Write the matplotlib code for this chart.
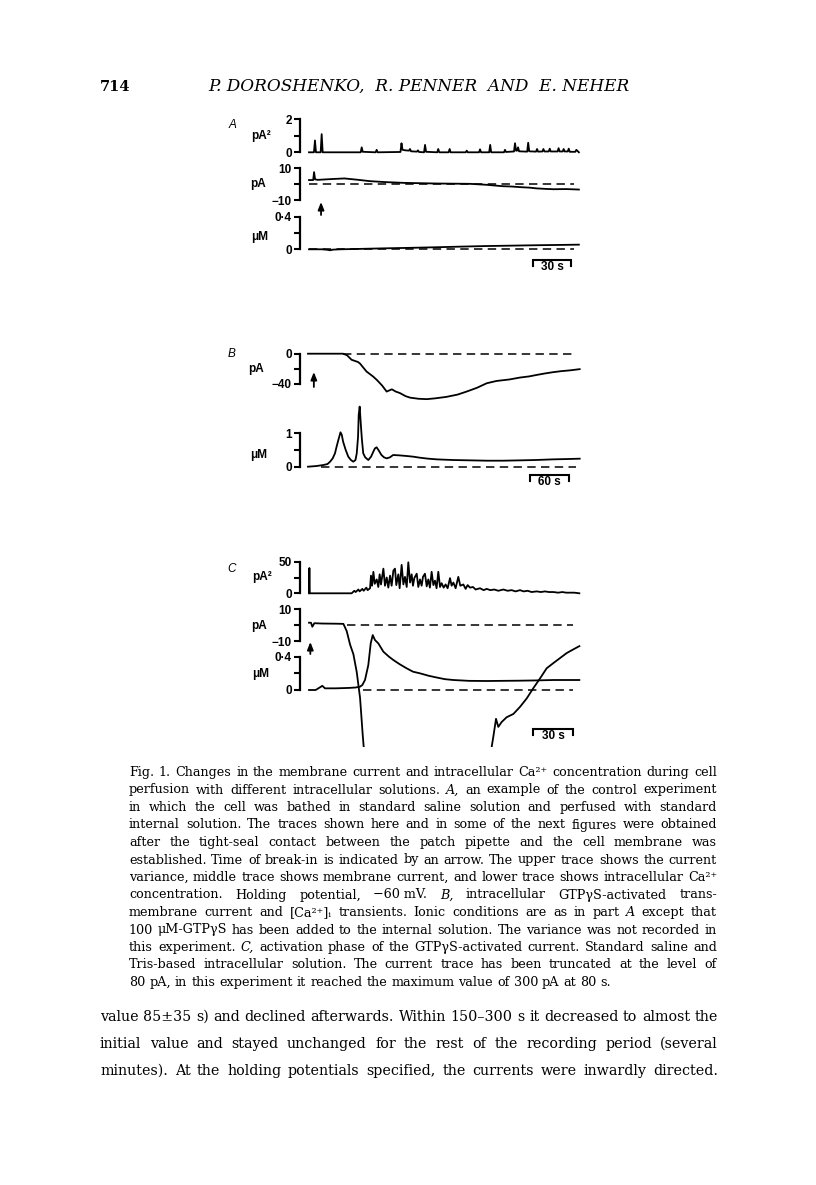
import matplotlib.pyplot as plt
from matplotlib.transforms import blended_transform_factory

W, H = 816, 1185
SANS = ['Liberation Sans', 'DejaVu Sans']
SERIF = ['DejaVu Serif']

# ---- panel A : variance (pA^2), current (pA), [Ca] (uM) ; time in s
var_a_t = [0, 3.9, 4.7, 5.5, 9.2, 10.0, 10.8, 40.8, 41.6, 42.4, 52.6, 53.4, 54.2,
           72.2, 73.0, 73.8, 76.0, 78.9, 79.7, 80.5, 85.2, 86.0, 86.8, 90.8, 91.6, 92.4,
           101.2, 102.0, 102.8, 110.2, 111.0, 111.8, 123.7, 124.5, 125.3, 134.2, 135.0, 135.8,
           142.2, 143.0, 143.8, 153.9, 154.7, 155.5, 161.8, 162.6, 163.4, 164.2, 165.0, 165.8,
           172.2, 173.0, 173.8, 179.2, 180.0, 180.8, 184.2, 185.0, 185.8, 189.2, 190.0, 190.8,
           196.2, 197.0, 197.8, 200.2, 201.0, 201.8, 204.2, 205.0, 205.8, 210.2, 211.0, 213]
var_a_v = [0, 0, 0.72, 0, 0, 1.1, 0, 0, 0.3, 0.03, 0, 0.15, 0,
           0.02, 0.55, 0.15, 0.12, 0.1, 0.2, 0.06, 0.04, 0.12, 0.02, 0, 0.45, 0.03,
           0, 0.2, 0, 0, 0.2, 0, 0, 0.1, 0, 0, 0.18, 0,
           0, 0.45, 0, 0, 0.15, 0.02, 0.05, 0.55, 0.1, 0.1, 0.3, 0.06,
           0.04, 0.58, 0.06, 0.04, 0.2, 0.04, 0.05, 0.2, 0.05, 0.05, 0.22, 0.05,
           0.05, 0.25, 0.05, 0.05, 0.2, 0.05, 0.05, 0.22, 0.03, 0.03, 0.15, 0]

cur_a_t = [0, 3.3, 4.0, 4.8, 7, 11, 20, 28, 38, 48, 60, 75, 88, 101, 114, 127, 140,
           153, 160, 167, 174, 180, 187, 193, 203, 213]
cur_a_v = [2.6, 2.6, 7.6, 3.0, 2.7, 2.9, 3.3, 3.6, 2.8, 1.9, 1.3, 0.8, 0.6, 0.4, 0.3, 0.2, -0.4,
           -1.3, -1.5, -1.9, -2.2, -2.7, -3.0, -3.2, -3.1, -3.4]

ca_a_t = [0, 10, 14, 16.6, 19, 25, 40, 60, 80, 100, 120, 140, 160, 180, 200, 213]
ca_a_v = [0.0, 0.0, -0.005, -0.012, -0.004, 0.0, 0.005, 0.012, 0.018, 0.025, 0.033,
          0.04, 0.045, 0.05, 0.054, 0.057]

# ---- panel B : current (pA), [Ca] (uM)
cur_b_t = [0, 20, 40, 54, 60, 67, 72, 77, 80, 90, 100, 106, 114, 121, 129, 135, 141.5, 150,
           157, 170, 182.6, 195, 213, 230, 244, 260, 275, 290, 310, 326, 340, 352, 365, 377,
           390, 403, 418]
cur_b_v = [0, 0, 0, 0, -2, -8, -9.5, -11, -13, -23.5, -30, -34.7, -42, -50, -47, -50, -52, -56,
           -58, -59.5, -60, -59, -57, -54, -50, -45, -39, -36, -34, -31.5, -30, -28, -26, -24.4,
           -23, -22, -20.4]

ca_b_t = [0, 13, 23.6, 30, 34, 38, 41.5, 44, 46.7, 50, 52, 54, 58, 62, 66, 69.7, 73, 75, 77, 78,
          79.5, 80.5, 81.5, 83, 85, 88, 92.8, 97, 100.5, 103, 105.6, 109, 113, 117, 121, 126,
          131, 140, 152, 162, 172, 185, 198, 210, 223.6, 250, 275, 300, 326, 350, 377, 400, 418]
ca_b_v = [0, 0.02, 0.05, 0.08, 0.15, 0.25, 0.4, 0.6, 0.8, 1.03, 0.95, 0.75, 0.5, 0.3, 0.2, 0.15,
          0.2, 0.4, 0.9, 1.55, 1.8, 1.5, 1.2, 0.8, 0.4, 0.28, 0.2, 0.3, 0.45, 0.55, 0.58, 0.48,
          0.35, 0.28, 0.25, 0.28, 0.35, 0.34, 0.32, 0.3, 0.27, 0.24, 0.22, 0.21, 0.2, 0.19, 0.18,
          0.18, 0.19, 0.2, 0.22, 0.23, 0.24]

# ---- panel C : variance, current (truncated at -80 pA), [Ca]
var_c_t = [0, 0.3, 0.6, 32, 34, 35, 37, 38, 40, 41,
           43, 44, 45.8, 46.5, 47.3, 48.3, 49.3, 50.8, 52, 53,
           54, 55.8, 57, 58.3, 59.5, 60.8, 62, 63.3, 64.5, 65.5,
           67, 68, 69.5, 70.8, 72, 73.3, 74.5, 75.8, 77, 78,
           79, 80.8, 82, 83.3, 84.5, 85.5, 87, 88.3, 89.5, 90.7,
           92, 93.3, 94.5, 95.7, 97, 98.3, 99.5, 101, 102.5, 104,
           105.8, 107, 108.3, 110, 112, 113.5, 115.8, 117.5, 119, 120.8,
           123, 125, 128.3, 131, 133.3, 136, 139, 142, 145.8, 149,
           152, 155, 158.3, 161, 164, 167, 170.8, 174, 177, 180,
           183.3, 187, 190, 193, 196, 199, 202.8]
var_c_v = [0, 40, 0, 0, 4, 2, 6, 3, 7, 4,
           9, 5, 8, 28, 12, 34, 15, 22, 10, 30,
           14, 39, 12, 25, 9, 28, 12, 36, 39, 13,
           30, 8, 45, 14, 26, 10, 49, 17, 30, 12,
           24, 31, 10, 22, 12, 26, 31, 11, 22, 9,
           34, 13, 20, 8, 34, 10, 16, 9, 14, 8,
           24, 12, 17, 8, 26, 12, 14, 7, 13, 9,
           10, 6, 8, 5, 7, 5, 6, 4, 6, 4,
           5, 3, 5, 3, 4, 2, 3, 2, 3, 2,
           2, 1, 2, 1, 1, 1, 0]

cur_c_t = [0, 1.5, 2.5, 4, 10, 20, 25.8, 28.3, 30.8, 33.3,
           35.8, 38.3, 40.3, 41.5, 80, 136, 137, 138.3, 140.3, 142,
           144.5, 148.3, 153.3, 158.3, 163.3, 168.3, 173.3, 178.3, 183.3, 188.3,
           193.3, 198.3, 202.8]
cur_c_v = [1.5, 1.5, -1, 1.2, 1.0, 0.9, 0.8, -3.7, -12, -18,
           -29, -45, -68, -80, -300, -80, -75.6, -69, -58, -63,
           -60, -57, -55, -50.6, -45.4, -39, -33, -26.7, -23.5, -20.4,
           -17.3, -15, -13]

ca_c_t = [0, 5, 8, 10, 12, 15, 20, 30, 35, 38.3,
          40, 42, 44.5, 46.3, 47.8, 49.5, 52, 55.8, 60, 63.3,
          68, 73.3, 78, 83.3, 90, 95.8, 102, 108.3, 120, 133.3,
          145, 158.3, 170, 183.3, 195, 202.8]
ca_c_v = [0, 0, 0.03, 0.05, 0.02, 0.02, 0.02, 0.025, 0.03, 0.04,
          0.06, 0.12, 0.3, 0.56, 0.66, 0.6, 0.56, 0.46, 0.4, 0.36,
          0.31, 0.26, 0.22, 0.2, 0.17, 0.15, 0.13, 0.12, 0.11, 0.108,
          0.11, 0.112, 0.115, 0.12, 0.12, 0.12]

header_no = "714"
header_authors = "P. DOROSHENKO,  R. PENNER  AND  E. NEHER"

# '_' marks italic words, '~' a space that does not stretch
caption = [
    "Fig. 1. Changes in the membrane current and intracellular Ca²⁺ concentration during cell",
    "perfusion with different intracellular solutions. _A, an example of the control experiment",
    "in which the cell was bathed in standard saline solution and perfused with standard",
    "internal solution. The traces shown here and in some of the next figures were obtained",
    "after the tight-seal contact between the patch pipette and the cell membrane was",
    "established. Time of break-in is indicated by an arrow. The upper trace shows the current",
    "variance, middle trace shows membrane current, and lower trace shows intracellular Ca²⁺",
    "concentration. Holding potential, −60~mV. _B, intracellular GTPγS-activated trans-",
    "membrane current and [Ca²⁺]ᵢ transients. Ionic conditions are as in part _A except that",
    "100 μM-GTPγS has been added to the internal solution. The variance was not recorded in",
    "this experiment. _C, activation phase of the GTPγS-activated current. Standard saline and",
    "Tris-based intracellular solution. The current trace has been truncated at the level of",
    "80 pA, in this experiment it reached the maximum value of 300 pA at 80 s.",
]
body = [
    "value 85±35 s) and declined afterwards. Within 150–300 s it decreased to almost the",
    "initial value and stayed unchanged for the rest of the recording period (several",
    "minutes). At the holding potentials specified, the currents were inwardly directed.",
]

fig = plt.figure(figsize=(W / 100, H / 100), dpi=100)
fig.patch.set_facecolor('white')


def fx(px):
    return px / W


def fy(py):
    return 1 - py / H


AX_L, AX_R = 300, 582
LAB = dict(fontsize=8.5, fontweight='bold', family=SANS)


def trace_ax(x_t0, pps, y_hi, y_lo, v_hi, v_lo, labels, pad_top=4, pad_bot=4):
    s = (y_lo - y_hi) / (v_hi - v_lo)
    top, bot = y_hi - pad_top, y_lo + pad_bot
    ax = fig.add_axes([fx(AX_L), fy(bot), (AX_R - AX_L) / W, (bot - top) / H])
    ax.set_xlim(-(x_t0 - AX_L) / pps, (AX_R - x_t0) / pps)
    ax.set_ylim(v_lo - pad_bot / s, v_hi + pad_top / s)
    ax.patch.set_visible(False)
    for k in ('top', 'right', 'bottom'):
        ax.spines[k].set_visible(False)
    ax.spines['left'].set_bounds(v_lo, v_hi)
    ax.spines['left'].set_linewidth(1.6)
    ax.set_xticks([])
    ax.set_yticks([v_lo, (v_lo + v_hi) / 2, v_hi])
    ax.set_yticklabels(labels)
    ax.tick_params(axis='y', length=4.5, width=1.5, pad=1.5)
    for lab in ax.get_yticklabels():
        lab.set(**LAB)
    return ax


def trace(ax, t, v, clip=False):
    ax.plot(t, v, color='k', lw=1.3, clip_on=clip, solid_joinstyle='round')


def dashed(ax, t0, t1):
    ax.plot([t0, t1], [0, 0], color='k', lw=1.1, dashes=(5.5, 3.5), clip_on=False)


def scale_bar(ax, t0, t1, y_px, text):
    tr = blended_transform_factory(ax.transData, fig.transFigure)
    ax.plot([t0, t0, t1, t1], [fy(y_px + 6), fy(y_px), fy(y_px), fy(y_px + 6)],
            transform=tr, color='k', lw=1.5, clip_on=False, solid_joinstyle='miter')
    ax.text((t0 + t1) / 2, fy(y_px + 1.5), text, transform=tr, ha='center', va='top', **LAB)


def arrow(ax, t, y_bot, y_top):
    tr = blended_transform_factory(ax.transData, fig.transFigure)
    ax.annotate('', xy=(t, fy(y_top)), xytext=(t, fy(y_bot)), xycoords=tr, textcoords=tr,
                annotation_clip=False,
                arrowprops=dict(arrowstyle='-|>,head_length=0.45,head_width=0.18',
                                lw=1.3, color='k', shrinkA=0, shrinkB=0))


def label(x, y, s, **kw):
    fig.text(fx(x), fy(y), s, ha='center', va='center', **{**LAB, **kw})


# ---------------- panel A
pps_a = 1.267
ax = trace_ax(309, pps_a, 119.3, 152.3, 2, 0, ['0', '', '2'])
trace(ax, var_a_t, var_a_v)
ax = trace_ax(309, pps_a, 168.3, 200, 10, -10, ['−10', '', '10'])
dashed(ax, 0, 209)
trace(ax, cur_a_t, cur_a_v)
arrow(ax, 9.5, 215, 202)
ax = trace_ax(309, pps_a, 216.7, 249.3, 0.4, 0, ['0', '', '0·4'], pad_bot=25)
dashed(ax, 0, 209)
trace(ax, ca_a_t, ca_a_v)
scale_bar(ax, 177, 207, 259.5, '30 s')
label(233, 125, 'A', style='italic', fontweight='normal')
label(261, 136, 'pA²')
label(258, 184, 'pA')
label(260, 237, 'μM')

# ---------------- panel B
pps_b = 0.65
ax = trace_ax(308, pps_b, 353.7, 384, 0, -40, ['−40', '', '0'], pad_bot=20)
dashed(ax, 54, 413)
trace(ax, cur_b_t, cur_b_v)
arrow(ax, 9, 387, 372)
ax = trace_ax(308, pps_b, 433.3, 466.7, 1, 0, ['0', '', '1'], pad_top=30, pad_bot=25)
dashed(ax, 20.5, 413)
trace(ax, ca_b_t, ca_b_v)
scale_bar(ax, 341.5, 401.5, 474.5, '60 s')
label(232, 354, 'B', style='italic', fontweight='normal')
label(256, 369, 'pA')
label(259, 455, 'μM')

# ---------------- panel C
pps_c = 1.333
ax = trace_ax(309, pps_c, 561.7, 593.3, 50, 0, ['0', '', '50'], pad_top=3)
trace(ax, var_c_t, var_c_v)
ax = trace_ax(309, pps_c, 609, 641.3, 10, -10, ['−10', '', '10'], pad_bot=105.7)
dashed(ax, 28.3, 198.3)
trace(ax, cur_c_t, cur_c_v, clip=True)
arrow(ax, 1, 654, 642)
ax = trace_ax(309, pps_c, 656.7, 690, 0.4, 0, ['0', '', '0·4'], pad_bot=55)
dashed(ax, 40.8, 198.3)
trace(ax, ca_c_t, ca_c_v)
scale_bar(ax, 168.3, 198.3, 728.5, '30 s')
label(232, 569, 'C', style='italic', fontweight='normal')
label(262, 577, 'pA²')
label(259, 626, 'pA')
label(261, 674, 'μM')

# ---------------- page text
renderer = fig.canvas.get_renderer()


def fit_size(lines, width, base=10.0):
    # font size at which the widest line just fits with plain spaces
    widest = 0
    for line in lines:
        t = fig.text(0, 0, line.replace('_', '').replace('~', ' '), fontsize=base, family=SERIF)
        widest = max(widest, t.get_window_extent(renderer).width)
        t.remove()
    return base * width / widest


def text_line(y_base, x0, x1, line, size, justify=True):
    arts = []
    for w in line.split(' '):
        style = 'normal'
        if w.startswith('_'):
            w, style = w[1:], 'italic'
        arts.append(fig.text(0, fy(y_base), w.replace('~', ' '), fontsize=size,
                             family=SERIF, style=style, va='baseline', ha='left'))
    widths = [a.get_window_extent(renderer).width for a in arts]
    if justify and len(arts) > 1:
        gap = (x1 - x0 - sum(widths)) / (len(arts) - 1)
    else:
        gap = size * 100 / 72 * 0.32
    x = x0
    for a, w in zip(arts, widths):
        a.set_x(fx(x))
        x += w + gap


fig.text(fx(100), fy(91), header_no, fontsize=10.5, fontweight='bold', family=SERIF,
         va='baseline', ha='left')
t = fig.text(fx(208), fy(91), header_authors, fontsize=10, style='italic', family=SERIF,
             va='baseline', ha='left')
t.set_fontsize(10 * 419 / t.get_window_extent(renderer).width)

cap_size = fit_size(caption[:-1], 717 - 129)
for i, line in enumerate(caption):
    text_line(776 + i * 17.5, 129, 717, line, cap_size, justify=i < len(caption) - 1)

body_size = fit_size(body, 718 - 100)
for i, line in enumerate(body):
    text_line(1021 + i * 27, 100, 718, line, body_size)

fig.savefig('out.png', dpi=100, facecolor='white')
